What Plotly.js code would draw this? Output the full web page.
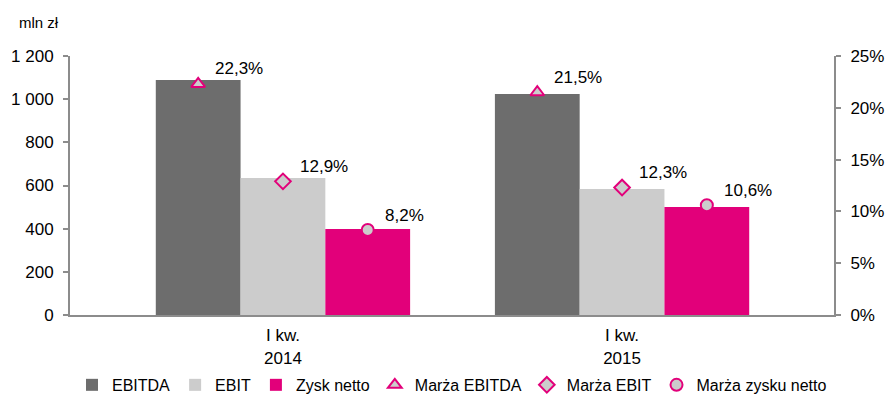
<!DOCTYPE html>
<html><head><meta charset="utf-8">
<script src="https://cdn.plot.ly/plotly-3.0.1.min.js"></script>
<style>html,body{margin:0;padding:0;background:#fff}#c{width:890px;height:400px}</style>
</head><body><div id="c"></div>
<script>
const categories = ["I kw.<br>2014", "I kw.<br>2015"];
const ebitda = [1089, 1024];
const ebit = [635, 584];
const zysk = [398, 500];
const marzaEbitda = [22.3, 21.5];
const marzaEbit = [12.9, 12.3];
const marzaZysk = [8.2, 10.6];
const leftTickVals = [0, 200, 400, 600, 800, 1000, 1200];
const leftTickText = ["0", "200", "400", "600", "800", "1 000", "1 200"];
const rightTickVals = [0, 5, 10, 15, 20, 25];
const rightTickText = ["0%", "5%", "10%", "15%", "20%", "25%"];

const idx = categories.map((_, i) => i);
const slot = 0.25;
const fmt = v => v.toFixed(1).replace('.', ',') + '%';
const FAM = 'Liberation Sans, Arial, sans-serif';
const font = {family: FAM, size: 17, color: '#000'};

function bar(name, y, color) {
  return {type: 'bar', name, x: idx, y, marker: {color, line: {width: 0}}, hoverinfo: 'skip'};
}
const margins = [
  {name: 'Marża EBITDA', y: marzaEbitda, k: 0, symbol: 'triangle-up'},
  {name: 'Marża EBIT', y: marzaEbit, k: 1, symbol: 'diamond'},
  {name: 'Marża zysku netto', y: marzaZysk, k: 2, symbol: 'circle'}
];
function mark(m) {
  return {type: 'scatter', mode: 'markers', name: m.name, x: idx.map(i => i + (m.k - 1) * slot), y: m.y,
    yaxis: 'y2',
    marker: {symbol: m.symbol, size: 12, color: '#cccccc', line: {color: '#e2007a', width: 2}},
    cliponaxis: false, hoverinfo: 'skip'};
}
const labelAnns = [];
margins.forEach(m => m.y.forEach((v, i) => labelAnns.push({
  x: i + (m.k - 1) * slot, y: v, xref: 'x', yref: 'y2', text: fmt(v), showarrow: false,
  xanchor: 'left', yanchor: 'middle', xshift: 15, yshift: 15, font
})));

const data = [
  bar('EBITDA', ebitda, '#6d6d6d'),
  bar('EBIT', ebit, '#cccccc'),
  bar('Zysk netto', zysk, '#e2007a'),
  ...margins.map(mark)
];

const layout = {
  width: 890, height: 400,
  margin: {l: 70, r: 56, t: 56, b: 85, autoexpand: false},
  paper_bgcolor: '#fff', plot_bgcolor: '#fff',
  font,
  barmode: 'group', bargap: 0.25, bargroupgap: 0,
  showlegend: true,
  legend: {orientation: 'h', x: 0.5, xanchor: 'center', y: -0.27, yanchor: 'middle',
    bgcolor: 'rgba(0,0,0,0)',
    font: {family: FAM, size: 16, color: '#000'}, itemwidth: 30, tracegroupgap: 0},
  xaxis: {type: 'linear', range: [-0.628, 1.625], tickvals: idx, ticktext: categories,
    showgrid: false, zeroline: false, showline: true, linecolor: '#8c8c8c', linewidth: 2,
    ticks: '', tickfont: font, fixedrange: true, automargin: false, ticklabelstandoff: 4},
  yaxis: {range: [0, 1200], tickvals: leftTickVals, ticktext: leftTickText, showgrid: false,
    zeroline: false, showline: true, linecolor: '#8c8c8c', linewidth: 2, ticks: 'outside',
    ticklen: 5, tickcolor: '#8c8c8c', tickwidth: 2, tickfont: font, automargin: false,
    ticklabelstandoff: 6},
  yaxis2: {range: [0, 25], overlaying: 'y', side: 'right', tickvals: rightTickVals,
    ticktext: rightTickText, showgrid: false, zeroline: false, showline: true, linecolor: '#8c8c8c',
    linewidth: 2, ticks: 'outside', ticklen: 5, tickcolor: '#8c8c8c', tickwidth: 2, tickfont: font,
    automargin: false, ticklabelstandoff: 6},
  annotations: [{text: 'mln zł', xref: 'paper', yref: 'paper', x: -0.069, y: 1.131,
    xanchor: 'left', yanchor: 'middle', showarrow: false,
    font: {family: FAM, size: 15, color: '#000'}}, ...labelAnns]
};

Plotly.newPlot('c', data, layout, {displayModeBar: false, staticPlot: true});
</script></body></html>
